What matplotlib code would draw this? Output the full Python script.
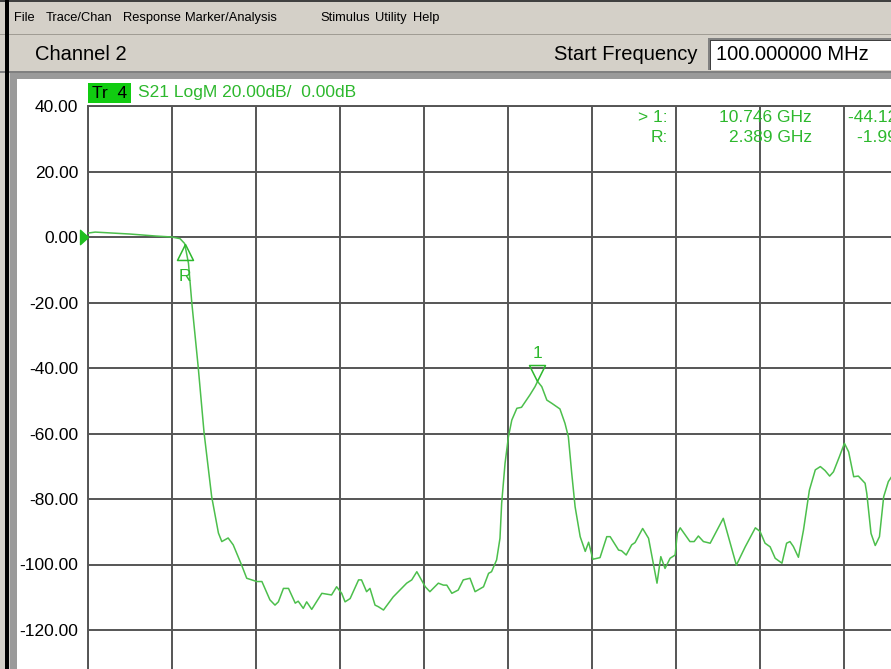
import numpy as np
import matplotlib
matplotlib.use("Agg")
import matplotlib.pyplot as plt
from matplotlib.patches import Rectangle
from matplotlib import font_manager

W, H = 891, 669
plt.rcParams['font.family'] = ['Liberation Sans', 'DejaVu Sans']

# S21 trace
freq_ghz = [0.10, 0.27, 1.10, 1.70, 2.08, 2.28, 2.39, 2.48, 2.56, 2.71, 2.85, 3.03,
            3.19, 3.27, 3.42, 3.54, 3.74, 3.86, 4.10, 4.22, 4.41, 4.53, 4.61, 4.73,
            4.85, 5.01, 5.08, 5.20, 5.28, 5.40, 5.64, 5.87, 5.99, 6.11, 6.19, 6.31,
            6.51, 6.58, 6.70, 6.78, 6.90, 6.98, 7.10, 7.33, 7.65, 7.77, 7.89, 8.09,
            8.20, 8.40, 8.52, 8.60, 8.72, 8.87, 8.99, 9.15, 9.27, 9.47, 9.59, 9.66,
            9.78, 9.86, 9.90, 9.98, 10.06, 10.14, 10.26, 10.37, 10.57, 10.69, 10.75,
            10.85, 10.97, 11.09, 11.28, 11.40, 11.48, 11.56, 11.64, 11.76, 11.88,
            11.96, 12.06, 12.23, 12.39, 12.47, 12.67, 12.74, 12.85, 12.98, 13.06,
            13.24, 13.38, 13.58, 13.67, 13.77, 13.89, 14.01, 14.06, 14.13, 14.36,
            14.46, 14.56, 14.68, 14.84, 15.15, 15.46, 15.67, 15.91, 16.02, 16.14,
            16.26, 16.38, 16.54, 16.65, 16.73, 16.81, 16.93, 17.05, 17.19, 17.33,
            17.45, 17.56, 17.67, 17.76, 17.90, 18.02, 18.12, 18.24, 18.35, 18.51,
            18.55, 18.65, 18.75, 18.85, 18.95, 19.06, 19.20]
s21_db = [1.2, 1.5, 0.9, 0.3, 0.0, -0.5, -2.0, -8.0, -20.2, -39.6, -59.8, -79.3,
          -90.4, -93.0, -91.9, -94.0, -100.2, -104.2, -105.2, -105.2, -110.8, -112.4, -111.4, -107.3,
          -107.3, -111.8, -111.2, -113.4, -111.4, -113.7, -108.8, -109.3, -106.8, -108.8, -111.4, -110.4,
          -104.7, -104.7, -108.3, -107.3, -112.4, -112.9, -113.9, -109.9, -105.7, -104.7, -102.2, -106.8,
          -108.3, -105.7, -106.3, -106.3, -108.8, -107.8, -104.7, -104.2, -108.3, -106.8, -102.7, -102.2,
          -98.6, -92.0, -81.3, -69.1, -61.0, -55.9, -52.3, -52.0, -48.2, -45.7, -44.1,
          -45.7, -49.8, -50.8, -52.5, -56.9, -61.0, -72.2, -82.4, -91.5, -96.0,
          -93.2, -98.4, -97.9, -91.5, -91.5, -95.6, -95.8, -97.1, -94.0, -93.3,
          -89.0, -92.0, -105.7, -97.6, -101.2, -98.1, -97.1, -90.5, -88.8, -93.0,
          -93.0, -91.3, -93.0, -93.5, -85.9, -100.2, -94.6, -88.8, -89.9, -93.5,
          -94.6, -98.1, -99.6, -93.5, -93.0, -94.5, -97.8, -89.5, -77.3, -71.1,
          -70.1, -71.3, -73.0, -71.7, -67.1, -63.0, -65.6, -73.2, -73.0, -75.2,
          -78.3, -90.5, -94.2, -91.5, -79.3, -74.7, -72.0]

mkr_names = ["1", "R"]
mkr_freq = [10.746, 2.389]
mkr_db = [-44.12, -1.99]

menu_items = ["File", "Trace/Chan", "Response", "Marker/Analysis", "Stimulus", "Utility", "Help"]
menu_x = [14, 46, 123, 185, 320, 375, 413]

y_ticks = np.arange(40, -121, -20)
start_ghz, stop_ghz = 0.1, 20.0

green = "#4cbf4c"
green_txt = "#2db82d"
grid_c = "#555555"

# the menu font on the instrument is a condensed one
installed = {f.name for f in font_manager.fontManager.ttflist}
if "Liberation Sans Narrow" in installed:
    menu_font, menu_size = "Liberation Sans Narrow", 11.4
else:
    menu_font, menu_size = "Liberation Sans", 9.3


def fx(px):
    return px / W


def fy(py):
    return 1 - py / H


fig = plt.figure(figsize=(W / 100, H / 100), dpi=100, facecolor="#d4d0c8")


def box(x0, y0, x1, y1, color, z=0):
    fig.add_artist(Rectangle((fx(x0), fy(y1)), (x1 - x0) / W, (y1 - y0) / H,
                             transform=fig.transFigure, facecolor=color,
                             edgecolor="none", zorder=z))


# window chrome
box(0, 0, W, 2, "#404040")
box(0, 34, W, 35, "#a09c94")
box(0, 71, W, 73, "#808080")
box(10, 73, W, H, "#9a9a9a")
box(17, 79, W, H, "white")
box(5, 0, 9, H, "black")

for name, x in zip(menu_items, menu_x):
    fig.text(fx(x), fy(18), name, fontsize=menu_size, va="center", color="black",
             family=[menu_font, "DejaVu Sans"])

fig.text(fx(35), fy(54), "Channel 2", fontsize=14.5, va="center")
fig.text(fx(698), fy(54), "Start Frequency", fontsize=14.5, va="center", ha="right")
box(708, 38, W, 70, "white")
box(708, 38, W, 40, "#808080")
box(708, 38, 710, 70, "#808080")
box(710, 40, W, 41, "#404040")
box(710, 40, 711, 70, "#404040")
fig.text(fx(716), fy(54), "%.6f MHz" % (start_ghz * 1000), fontsize=14.5, va="center")

# plot area (runs off the right and bottom of the screenshot)
ax = fig.add_axes([fx(88), fy(761), 840 / W, 655 / H])
ax.set_facecolor("white")
ax.set_xlim(start_ghz, stop_ghz)
ax.set_ylim(-160, 40)
ax.set_xticks(np.linspace(start_ghz, stop_ghz, 11))
ax.set_xticklabels([])
ax.set_yticks(y_ticks)
ax.set_yticklabels(["%.2f" % v for v in y_ticks], fontsize=12.5)
ax.tick_params(length=0, pad=7)
ax.grid(color=grid_c, lw=1.4)
ax.set_axisbelow(True)
for sp in ax.spines.values():
    sp.set_color(grid_c)
    sp.set_linewidth(1.4)

ax.plot(freq_ghz, s21_db, color=green, lw=1.1, zorder=3)

# markers: hollow triangles with apex on the trace
tri_down = [(0, 0), (-0.5, 1), (0.5, 1), (0, 0)]
tri_up = [(0, 0), (-0.5, -1), (0.5, -1), (0, 0)]
ax.plot([mkr_freq[0]], [mkr_db[0]], marker=tri_down, ms=23, mfc="none",
        mec=green_txt, mew=1.1, zorder=4)
ax.annotate(mkr_names[0], (mkr_freq[0], mkr_db[0]), xytext=(0, 20),
            textcoords="offset points", ha="center", va="center",
            color=green_txt, fontsize=12.5)
ax.plot([mkr_freq[1]], [mkr_db[1]], marker=tri_up, ms=23, mfc="none",
        mec=green_txt, mew=1.1, zorder=4)
ax.annotate(mkr_names[1], (mkr_freq[1], mkr_db[1]), xytext=(0, -24),
            textcoords="offset points", ha="center", va="center",
            color=green_txt, fontsize=12.5)

# reference level pointer
ax.plot([start_ghz], [0], marker=[(0, 0), (-1, 0.9), (-1, -0.9), (0, 0)], ms=11.5,
        color="#1fbf1f", clip_on=False, zorder=5)

# trace title
box(88, 83, 131, 103, "#11cc11", z=3)
fig.text(fx(92), fy(93), "Tr  4", fontsize=12.5, va="center", color="black", zorder=4)
fig.text(fx(138), fy(93), "S21 LogM 20.00dB/  0.00dB", fontsize=12.5, va="center",
         color=green_txt)

# marker readout (right column is cut by the screen edge, as on the instrument)
rows = [("> 1:", 0, 118, 848), ("R:", 1, 138, 857)]
for label, i, y, xv in rows:
    fig.text(fx(668), fy(y), label, ha="right", va="center", fontsize=12.5, color=green_txt)
    fig.text(fx(812), fy(y), "%.3f GHz" % mkr_freq[i], ha="right", va="center",
             fontsize=12.5, color=green_txt)
    fig.text(fx(xv), fy(y), "%.2f dB" % mkr_db[i], va="center", fontsize=12.5,
             color=green_txt)

fig.savefig("out.png", dpi=100, facecolor=fig.get_facecolor())
